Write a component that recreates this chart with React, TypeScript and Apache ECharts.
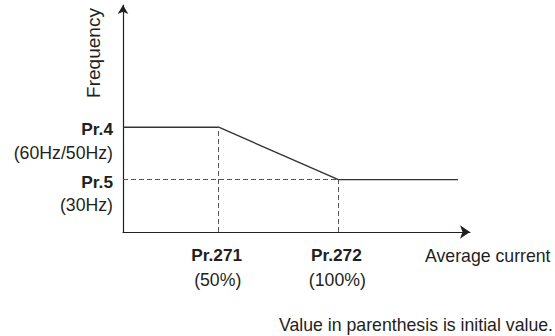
import React, { useEffect, useRef } from "react";
import * as echarts from "echarts";

// Schematic positions along the "Average current" axis (0 = origin)
const currentPoints = [0, 0.8, 1.8, 2.8];
// Frequency (Hz) at each point: Pr.4 plateau, ramp down to Pr.5 plateau
const frequencyValues = [60, 60, 30, 30];

// Y-axis parameter labels (frequency levels)
const yParams = [
  { value: 60, name: "Pr.4", init: "(60Hz/50Hz)" },
  { value: 30, name: "Pr.5", init: "(30Hz)" },
];
// X-axis parameter labels (current breakpoints)
const xParams = [
  { value: 0.8, name: "Pr.271", init: "(50%)" },
  { value: 1.8, name: "Pr.272", init: "(100%)" },
];

const yAxisTitle = "Frequency";
const xAxisTitle = "Average current";
const footNote = "Value in parenthesis is initial value.";

const FONT = "'Liberation Sans', Arial, Helvetica, sans-serif";
const INK = "#231f20";

export default function App() {
  const ref = useRef<HTMLDivElement>(null);

  useEffect(() => {
    if (!ref.current) return;
    const chart = echarts.init(ref.current, null, { renderer: "svg" });
    const axisStyle = { color: INK, width: 1.2 };
    const dash = { color: "#555", width: 1, type: [5, 3] as any };

    const base: any = {
      animation: false,
      grid: { left: 123, right: 85, top: 5, bottom: 104 },
      xAxis: {
        type: "value",
        min: 0,
        max: 2.9,
        axisLine: { show: true, symbol: ["none", "arrow"], symbolSize: [10, 10], lineStyle: axisStyle },
        axisTick: { show: false },
        axisLabel: { show: false },
        splitLine: { show: false },
      },
      yAxis: {
        type: "value",
        min: 0,
        max: 130,
        axisLine: { show: true, symbol: ["none", "arrow"], symbolSize: [8, 9], lineStyle: axisStyle },
        axisTick: { show: false },
        axisLabel: { show: false },
        splitLine: { show: false },
      },
      series: [
        {
          type: "line",
          data: currentPoints.map((x, i) => [x, frequencyValues[i]]),
          symbol: "none",
          lineStyle: { color: "#333", width: 1.4 },
          silent: true,
          z: 3,
          markLine: {
            silent: true,
            symbol: "none",
            label: { show: false },
            lineStyle: dash,
            data: [
              [{ coord: [xParams[0].value, 0] }, { coord: [xParams[0].value, yParams[0].value] }],
              [{ coord: [xParams[1].value, 0] }, { coord: [xParams[1].value, yParams[1].value] }],
              [{ coord: [0, yParams[1].value] }, { coord: [xParams[1].value, yParams[1].value] }],
            ],
          },
        },
      ],
    };
    chart.setOption(base);

    const px = (x: number, y: number) => chart.convertToPixel({ gridIndex: 0 }, [x, y]) as number[];
    const origin = px(0, 0);
    const yTop = px(0, 130);
    const xEnd = px(2.9, 0);

    const txt = (text: string, x: number, y: number, opts: any = {}) => ({
      type: "text",
      x,
      y,
      silent: true,
      rotation: opts.rotation || 0,
      style: {
        text,
        fill: INK,
        font: `${opts.bold ? "bold " : ""}${opts.size || 17.7}px ${FONT}`,
        align: opts.align || "center",
        verticalAlign: "middle",
      },
    });

    const elements: any[] = [];
    yParams.forEach((p) => {
      const [, py] = px(0, p.value);
      elements.push(txt(p.name, origin[0] - 10, py + 2, { align: "right", bold: true, size: 17.3 }));
      elements.push(txt(p.init, origin[0] - 10, py + 25.5, { align: "right" }));
    });
    xParams.forEach((p) => {
      const [pxx] = px(p.value, 0);
      elements.push(txt(p.name, pxx - 2, origin[1] + 23, { bold: true, size: 17.3 }));
      elements.push(txt(p.init, pxx - 1, origin[1] + 48));
    });
    elements.push(txt(xAxisTitle, xEnd[0] - 45, origin[1] + 23.5, { align: "left" }));
    elements.push(txt(yAxisTitle, origin[0] - 30, yTop[1] + 48, { rotation: Math.PI / 2, size: 19 }));
    elements.push(txt(footNote, 553, 325, { align: "right" }));

    chart.setOption({ graphic: elements });

    return () => chart.dispose();
  }, []);

  return (
    <div
      ref={ref}
      style={{ position: "fixed", left: 0, top: 0, width: 555, height: 336, background: "#fff" }}
    />
  );
}
